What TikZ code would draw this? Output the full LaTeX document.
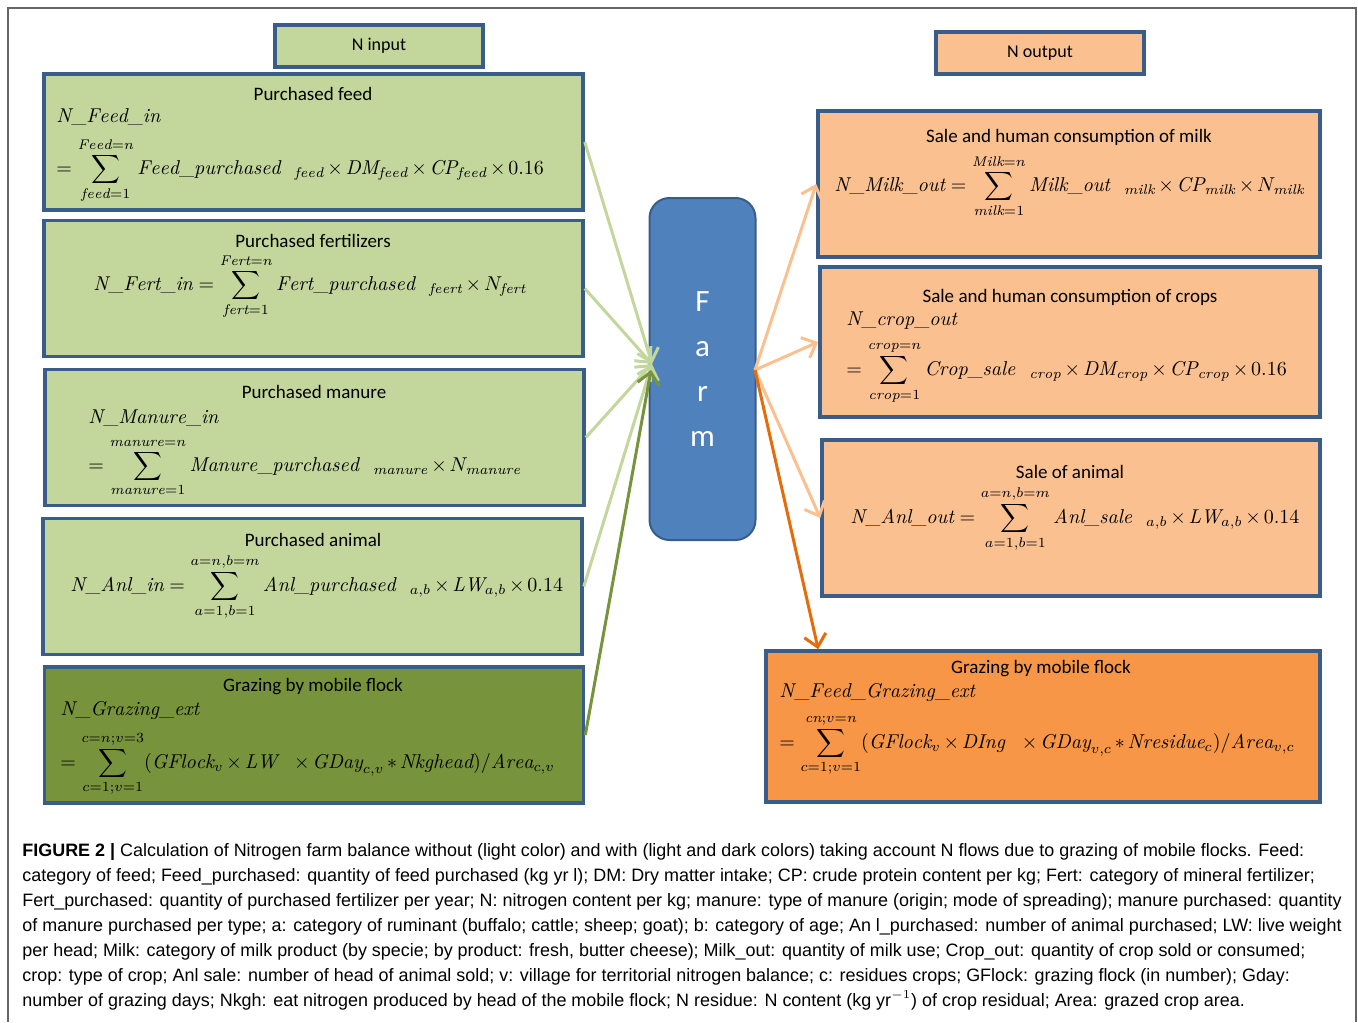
\documentclass[tikz,border=0pt]{standalone}
\usepackage{amsmath}
\usepackage{fontspec}
\newfontfamily\calib{Carlito}
\newfontfamily\capfont{Liberation Sans}
\usetikzlibrary{arrows.meta,positioning,calc}
\definecolor{lgreen}{HTML}{C3D69B}
\definecolor{dgreen}{HTML}{77933C}
\definecolor{lorange}{HTML}{FAC090}
\definecolor{dorange}{HTML}{F79646}
\definecolor{darrow}{HTML}{E46C0A}
\definecolor{boxblue}{HTML}{385D8A}
\definecolor{farmblue}{HTML}{4F81BD}
\definecolor{framegray}{HTML}{666666}
\newcommand{\mv}[1]{\mathit{#1}}
\newcommand{\gap}{\hspace{7pt}}
\newcommand{\eqfont}{\fontsize{10}{12}\selectfont\medmuskip=2.5mu\relax}
\tikzset{
    inbox/.style =  {rectangle,
                    fill=lgreen,
                    draw=boxblue,
                    line width=1.8pt,
                    inner sep=0pt,
                    minimum width=269.5pt,
                    minimum height=68pt},
    outbox/.style = {rectangle,
                    fill=lorange,
                    draw=boxblue,
                    line width=1.8pt,
                    inner sep=0pt},
    head/.style =   {rectangle,
                    draw=boxblue,
                    line width=1.8pt,
                    minimum width=104pt,
                    minimum height=21pt,
                    font=\calib\fontsize{9}{11}\selectfont},
    ttl/.style =    {inner sep=0pt,
                    font=\calib\fontsize{9.5}{11}\selectfont},
    eq/.style =     {anchor=west,
                    align=left,
                    inner sep=0pt,
                    font=\eqfont},
    flow/.style =   {line width=1.5pt,
                    -{Straight Barb[length=6pt,width=11pt,line width=1.5pt]}},
    -,
    x=0.5pt, y=-0.5pt}

\begin{document}
\begin{tikzpicture}
    \useasboundingbox (0,0) rectangle (1358,1022);
    \draw[framegray, line width=0.9pt] (8,1022) -- (8,8) -- (1356,8) -- (1356,1022);

    % headers
    \node[head, fill=lgreen]  (nin)  at (379,46)  {N input};
    \node[head, fill=lorange] (nout) at (1040,53) {N output};

    % inputs
    \node[inbox] (feed)   at (313.5,142) {};
    \node[inbox] (fert)   at (313.5,288.5) {};
    \node[inbox] (manure) at (314.5,437.5) {};
    \node[inbox] (animal) at (312.5,586.5) {};
    \node[inbox, fill=dgreen] (grazin) at (314,735) {};

    \node[ttl] (feedT)   at (313,94)  {Purchased feed};
    \node[ttl] (fertT)   at (313,241) {Purchased fertilizers};
    \node[ttl] (manureT) at (314,392) {Purchased manure};
    \node[ttl] (animalT) at (313,540) {Purchased animal};
    \node[ttl] (grazinT) at (313,687) {Grazing by mobile flock};

    \node[eq] (feedE) at (56,156) {$\mv{N\_Feed\_in}$\\[5pt]
        $\displaystyle = \sum_{\mv{feed}=1}^{\mv{Feed}=n}\mv{Feed\_purchased}\gap{}_{\mv{feed}}\times\mv{DM}_{\mv{feed}}\times\mv{CP}_{\mv{feed}}\times 0.16$};
    \node[eq] (fertE) at (93,287) {$\displaystyle \mv{N\_Fert\_in} = \sum_{\mv{fert}=1}^{\mv{Fert}=n}\mv{Fert\_purchased}\gap{}_{\mv{feert}}\times N_{\mv{fert}}$};
    \node[eq] (manureE) at (88,453) {$\mv{N\_Manure\_in}$\\[5pt]
        $\displaystyle = \sum_{\mv{manure}=1}^{\mv{manure}=n}\mv{Manure\_purchased}\gap{}_{\mv{manure}}\times N_{\mv{manure}}$};
    \node[eq] (animalE) at (70,587) {$\displaystyle \mv{N\_Anl\_in} = \sum_{a=1,b=1}^{a=n,b=m}\mv{Anl\_purchased}\gap{}_{a,b}\times\mv{LW}_{a,b}\times 0.14$};
    \node[eq] (grazinE) at (60,749) {$\mv{N\_Grazing\_ext}$\\[5pt]
        $\displaystyle = \sum_{c=1;v=1}^{c=n;v=3}(\mv{GFlock}_v\times\mv{LW}\gap\times\mv{GDay}_{c,v}\ast\mv{Nkghead})/\mv{Area}_{c,v}$};

    % farm
    \node[rectangle, rounded corners=10pt, fill=farmblue, draw=boxblue, line width=1pt,
          minimum width=53pt, minimum height=171pt, align=center, text=white,
          font=\calib\fontsize{15.5}{22.5}\selectfont] (farm) at (702.5,369) {F\\a\\r\\m};

    % outputs
    \node[outbox, minimum width=251pt, minimum height=73pt] (milk)   at (1069,184) {};
    \node[outbox, minimum width=250pt, minimum height=75pt] (crop)   at (1070,342) {};
    \node[outbox, minimum width=249pt, minimum height=78pt] (anlout) at (1071,518) {};
    \node[outbox, fill=dorange, minimum width=277pt, minimum height=75.5pt] (grazout) at (1043,726.5) {};

    \node[ttl] (milkT)    at (1069,137) {Sale and human consumption of milk};
    \node[ttl] (cropT)    at (1070,297) {Sale and human consumption of crops};
    \node[ttl] (anloutT)  at (1070,472) {Sale of animal};
    \node[ttl] (grazoutT) at (1041,669) {Grazing by mobile flock};

    \node[eq] (milkE) at (834,186) {$\displaystyle \mv{N\_Milk\_out} = \sum_{\mv{milk}=1}^{\mv{Milk}=n}\mv{Milk\_out}\gap{}_{\mv{milk}}\times\mv{CP}_{\mv{milk}}\times N_{\mv{milk}}$};
    \node[eq] (cropE) at (846,358) {$\mv{N\_crop\_out}$\\[5pt]
        $\displaystyle = \sum_{\mv{crop}=1}^{\mv{crop}=n}\mv{Crop\_sale}\gap{}_{\mv{crop}}\times\mv{DM}_{\mv{crop}}\times\mv{CP}_{\mv{crop}}\times 0.16$};
    \node[eq] (anloutE) at (850,519) {$\displaystyle \mv{N\_Anl\_out} = \sum_{a=1,b=1}^{a=n,b=m}\mv{Anl\_sale}\gap{}_{a,b}\times\mv{LW}_{a,b}\times 0.14$};
    \node[eq] (grazoutE) at (779,730) {$\mv{N\_Feed\_Grazing\_ext}$\\[5pt]
        $\displaystyle = \sum_{c=1;v=1}^{\mv{cn};v=n}(\mv{GFlock}_v\times\mv{DIng}\gap\times\mv{GDay}_{v,c}\ast\mv{Nresidue}_c)/\mv{Area}_{v,c}$};

    % flows
    \coordinate (inpt)  at (652,364);
    \coordinate (outpt) at (755,370);
    \coordinate (gzin)  at ($(grazout.north west)+(54,0)$);
    \draw[flow, lgreen] (feed.east)   -- (inpt);
    \draw[flow, lgreen] (fert.east)   -- (inpt);
    \draw[flow, lgreen] (manure.east) -- (inpt);
    \draw[flow, lgreen] (animal.east) -- (inpt);
    \draw[flow, dgreen] (grazin.east) -- (651,370);
    \draw[flow, lorange] (outpt) -- (milk.west);
    \draw[flow, lorange] (outpt) -- (crop.west);
    \draw[flow, lorange] (outpt) -- (anlout.west);
    \draw[flow, darrow]  (outpt) -- (gzin);

    % caption
    \node[anchor=north west, align=left, inner sep=0pt,
          font=\capfont\fontsize{8.97}{12.5}\selectfont] (cap) at (22,843) {%
        \textbf{FIGURE 2 |} Calculation of Nitrogen farm balance without (light color) and with (light and dark colors) taking account N flows due to grazing of mobile flocks. Feed:\\
        category of feed; Feed\_purchased: quantity of feed purchased (kg yr l); DM: Dry matter intake; CP: crude protein content per kg; Fert: category of mineral fertilizer;\\
        Fert\_purchased: quantity of purchased fertilizer per year; N: nitrogen content per kg; manure: type of manure (origin; mode of spreading); manure purchased: quantity\\
        of manure purchased per type; a: category of ruminant (buffalo; cattle; sheep; goat); b: category of age; An l\_purchased: number of animal purchased; LW: live weight\\
        per head; Milk: category of milk product (by specie; by product: fresh, butter cheese); Milk\_out: quantity of milk use; Crop\_out: quantity of crop sold or consumed;\\
        crop: type of crop; Anl sale: number of head of animal sold; v: village for territorial nitrogen balance; c: residues crops; GFlock: grazing flock (in number); Gday:\\
        number of grazing days; Nkgh: eat nitrogen produced by head of the mobile flock; N residue: N content (kg yr$^{-1}$) of crop residual; Area: grazed crop area.};
\end{tikzpicture}
\end{document}
